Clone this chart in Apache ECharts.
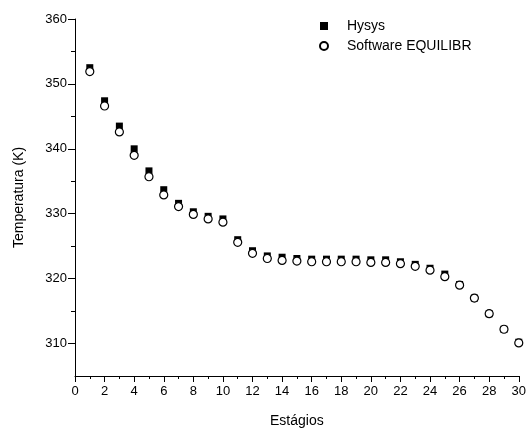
<!DOCTYPE html>
<html>
<head>
<meta charset="utf-8">
<script src="https://cdn.jsdelivr.net/npm/echarts@6/dist/echarts.min.js"></script>
<style>
  html, body { margin: 0; padding: 0; background: #fff; }
  #chart { width: 529px; height: 433px; }
</style>
</head>
<body>
<div id="chart"></div>
<script>
// estágios (1..30)
const stages = [1, 2, 3, 4, 5, 6, 7, 8, 9, 10, 11, 12, 13, 14, 15, 16, 17, 18, 19, 20, 21, 22, 23, 24, 25, 26, 27, 28, 29, 30]
// temperaturas (K)
const hysys = [352.5, 347.4, 343.5, 340.0, 336.6, 333.7, 331.6, 330.3, 329.6, 329.2, 326.0, 324.3, 323.5, 323.3, 323.1, 323.0, 323.0, 323.0, 323.0, 322.9, 322.9, 322.6, 322.2, 321.6, 320.7, 319.1, 317.0, 314.6, 312.2, 310.2]
const equilibr = [351.9, 346.6, 342.6, 339.0, 335.7, 332.9, 331.1, 329.9, 329.2, 328.7, 325.6, 323.9, 323.1, 322.8, 322.7, 322.6, 322.6, 322.6, 322.6, 322.5, 322.5, 322.3, 321.9, 321.3, 320.3, 319.0, 317.0, 314.6, 312.2, 310.1]
const yMajor = [310, 320, 330, 340, 350, 360]
const yMinor = [315, 325, 335, 345, 355]

const pairs = (ys) => stages.map((x, i) => [x, ys[i]])

const chart = echarts.init(document.getElementById('chart'))
const font = 'Liberation Sans, Arial, sans-serif'
chart.setOption({
  animation: false,
  textStyle: { fontFamily: font },
  grid: { left: 75, right: 9, top: 19, bottom: 56 },
  legend: {
    orient: 'vertical',
    left: 314,
    top: 14,
    itemWidth: 8,
    itemHeight: 8,
    itemGap: 6,
    textStyle: { fontSize: 14, color: '#000', fontFamily: font, padding: [0, 0, 0, 14] },
    data: [
      { name: 'Hysys', icon: 'rect' },
      { name: 'Software EQUILIBR', icon: 'circle' }
    ]
  },
  xAxis: {
    type: 'value',
    min: 0,
    max: 30,
    interval: 2,
    name: 'Estágios',
    nameLocation: 'middle',
    nameGap: 38,
    nameTextStyle: { fontSize: 14, color: '#000' },
    axisLine: { lineStyle: { color: '#000', width: 1 } },
    axisTick: { length: 6, lineStyle: { color: '#000' } },
    minorTick: { show: true, splitNumber: 2, length: 3, lineStyle: { color: '#000' } },
    axisLabel: { fontSize: 13, color: '#000', margin: 9 },
    splitLine: { show: false }
  },
  yAxis: [
    {
      type: 'value',
      min: 305,
      max: 360,
      name: 'Temperatura (K)',
      nameLocation: 'middle',
      nameGap: 49,
      nameTextStyle: { fontSize: 14, color: '#000' },
      axisLine: { show: true, lineStyle: { color: '#000', width: 1 } },
      axisTick: { show: true, length: 7, customValues: yMajor, lineStyle: { color: '#000' } },
      axisLabel: { fontSize: 13, color: '#000', margin: 8, customValues: yMajor },
      splitLine: { show: false }
    },
    {
      type: 'value',
      min: 305,
      max: 360,
      position: 'left',
      axisLine: { show: false },
      axisTick: { show: true, length: 4, customValues: yMinor, lineStyle: { color: '#000' } },
      axisLabel: { show: false, customValues: yMinor },
      splitLine: { show: false }
    }
  ],
  series: [
    {
      name: 'Hysys',
      type: 'scatter',
      symbol: 'rect',
      symbolSize: 7,
      itemStyle: { color: '#000', opacity: 1 },
      data: pairs(hysys)
    },
    {
      name: 'Software EQUILIBR',
      type: 'scatter',
      symbol: 'circle',
      symbolSize: 8,
      itemStyle: { color: '#fff', borderColor: '#000', borderWidth: 1.2, opacity: 1 },
      data: pairs(equilibr)
    }
  ]
})
</script>
</body>
</html>
